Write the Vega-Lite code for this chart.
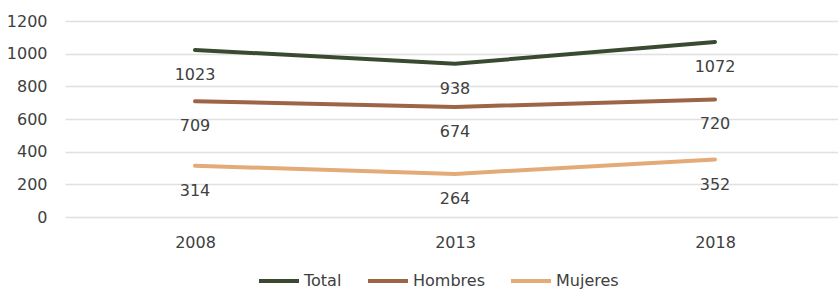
{
  "$schema": "https://vega.github.io/schema/vega-lite/v6.json",
  "width": 780,
  "height": 196,
  "autosize": {"type": "none"},
  "padding": {"left": 65, "top": 21, "right": 0, "bottom": 73},
  "background": "white",
  "config": {
    "font": "DejaVu Sans",
    "view": {"stroke": null},
    "axis": {"labelFont": "DejaVu Sans", "labelFontSize": 16, "labelColor": "#404040"}
  },
  "data": {
    "values": [
      {"year": "2008", "serie": "Total", "value": 1023},
      {"year": "2013", "serie": "Total", "value": 938},
      {"year": "2018", "serie": "Total", "value": 1072},
      {"year": "2008", "serie": "Hombres", "value": 709},
      {"year": "2013", "serie": "Hombres", "value": 674},
      {"year": "2018", "serie": "Hombres", "value": 720},
      {"year": "2008", "serie": "Mujeres", "value": 314},
      {"year": "2013", "serie": "Mujeres", "value": 264},
      {"year": "2018", "serie": "Mujeres", "value": 352}
    ]
  },
  "encoding": {
    "x": {
      "field": "year", "type": "ordinal",
      "scale": {"type": "point", "padding": 0.5},
      "axis": {"title": null, "labelAngle": 0, "ticks": false, "domain": false, "labelPadding": 17, "grid": false}
    },
    "y": {
      "field": "value", "type": "quantitative",
      "scale": {"domain": [0, 1200], "nice": false},
      "axis": {"title": null, "values": [0, 200, 400, 600, 800, 1000, 1200], "format": "d", "ticks": false, "domain": false, "labelPadding": 18, "gridColor": "#e0e0e0", "gridWidth": 1.5, "labelBaseline": "middle"}
    }
  },
  "layer": [
    {
      "mark": {"type": "line", "strokeWidth": 4, "strokeCap": "round"},
      "encoding": {
        "color": {
          "field": "serie", "type": "nominal",
          "scale": {"domain": ["Total", "Hombres", "Mujeres"], "range": ["#3a4a30", "#9c6546", "#e4ab78"]},
          "legend": {
            "title": null, "orient": "none", "legendX": 192, "legendY": 238,
            "direction": "horizontal", "symbolType": "stroke", "symbolStrokeWidth": 4,
            "symbolSize": 1600, "labelFontSize": 16, "labelColor": "#404040", "labelFont": "DejaVu Sans",
            "columnPadding": 18, "labelOffset": 3
          }
        }
      }
    },
    {
      "mark": {"type": "text", "dy": 25, "fontSize": 16, "color": "#404040", "font": "DejaVu Sans"},
      "encoding": {"text": {"field": "value", "type": "quantitative"}}
    }
  ]
}
